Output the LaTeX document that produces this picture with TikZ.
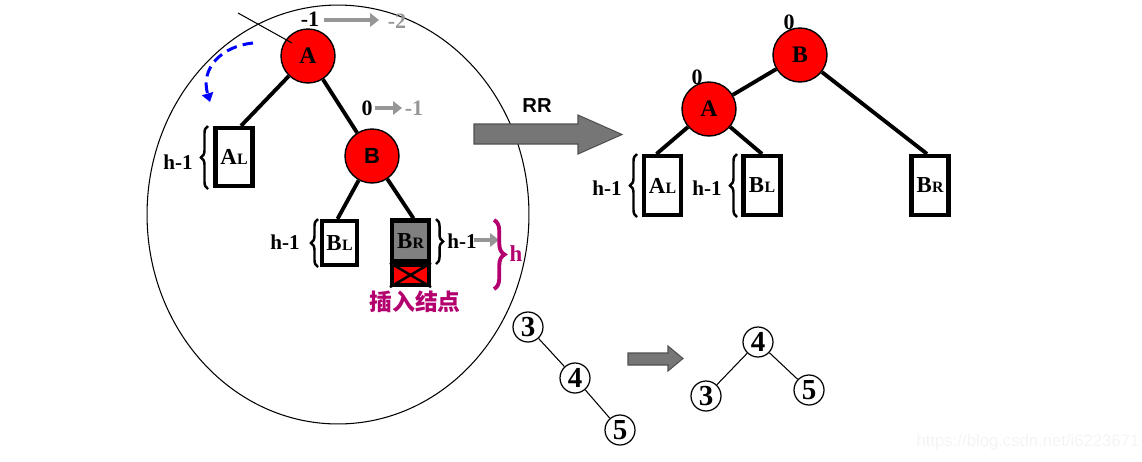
\documentclass[tikz,border=0pt]{standalone}
\usepackage{fontspec}
\setmainfont{Liberation Serif}
\newfontfamily\arialf{Liberation Sans}
\newfontfamily\cjkf{Noto Sans CJK SC}
\usetikzlibrary{arrows.meta,decorations.pathreplacing,calc}
\definecolor{nodered}{RGB}{255,0,0}
\definecolor{lblgrey}{RGB}{150,150,150}
\definecolor{magentax}{RGB}{179,0,110}
\definecolor{boxgrey}{RGB}{128,128,128}
\definecolor{arrowfill}{RGB}{118,118,118}
\definecolor{arrowedge}{RGB}{80,80,80}
\definecolor{wmgrey}{RGB}{244,244,244}
\definecolor{dashblue}{RGB}{0,0,255}
\newcommand{\boxlbl}[2]{#1\kern0.2pt{\fontsize{9}{9}\selectfont #2}}
\tikzset{
  rnode/.style={circle, draw=black, line width=0.8pt, fill=nodered, minimum size=1.08cm, inner sep=0pt, font=\fontsize{13.5}{14}\selectfont\bfseries},
  tbox/.style={draw=black, line width=2.4pt, inner sep=0pt, minimum width=0.74cm, font=\fontsize{13}{13}\selectfont\bfseries},
  tedge/.style={line width=2.2pt},
  hlbl/.style={inner sep=0pt, font=\fontsize{12}{12}\selectfont\bfseries},
  glbl/.style={inner sep=0pt, text=lblgrey, font=\fontsize{12.5}{13}\selectfont\bfseries},
  garr/.style={draw=lblgrey, line width=2.3pt, -{Triangle[length=5pt,width=7.5pt]}},
  lbrace/.style={decorate, decoration={brace, amplitude=4pt}, line width=1.4pt},
  snode/.style={circle, draw=black, line width=0.7pt, minimum size=0.6cm, inner sep=0pt, font=\fontsize{16.5}{16}\selectfont\bfseries},
  thinedge/.style={line width=0.6pt},
  bigarrow/.style={fill=arrowfill, draw=arrowedge, line width=0.6pt}
}
\begin{document}
\begin{tikzpicture}[x=0.02cm, y=-0.02cm]
\useasboundingbox (0,0) rectangle (1142,461);
% big ellipse
\draw[line width=0.6pt] (338,214.5) ellipse [x radius=3.82cm, y radius=4.19cm];

% ---------- left tree ----------
\node[rnode] (A) at (308,56) {A};
\node[rnode, font=\arialf\fontsize{12.5}{13}\selectfont\bfseries] (B) at (372,156) {B};
\node[tbox, minimum height=1.16cm] (AL) at (234,157) {\boxlbl{A}{L}};
\node[tbox, minimum width=0.70cm, minimum height=0.88cm] (BL) at (339.5,243) {\boxlbl{B}{L}};
\node[tbox, fill=boxgrey, minimum height=0.82cm] (BR) at (410.5,241) {\boxlbl{B}{R}};
\node[tbox, fill=nodered, minimum height=0.40cm] (X) at (410.5,275) {};
\draw[line width=1.4pt] (X.north west) -- (X.south east);
\draw[line width=1.4pt] (X.south west) -- (X.north east);

\draw[tedge] (A) -- ($(AL.north)+(7,0)$);
\draw[tedge] (A) -- (B);
\draw[tedge] (B) -- ($(BL.north)+(-2,0)$);
\draw[tedge] (B) -- ($(BR.north)+(3,0)$);

% stray line
\coordinate (s1) at (238,13);
\coordinate (s2) at (292,43);
\draw[line width=0.6pt] (s1) -- (s2);

% blue dashed rotation arrow
\coordinate (b1) at (253,43);
\coordinate (b2) at (210,102);
\draw[dashblue, line width=1.7pt, dash pattern=on 6pt off 3.5pt, -{Triangle[length=5pt,width=6.5pt]}] (b1) .. controls (222,46) and (200,68) .. (b2);

% balance labels
\node[hlbl, font=\fontsize{12.5}{13}\selectfont\bfseries] (la1) at (310,19) {-1};
\coordinate (g1s) at (324,20);
\coordinate (g1e) at (379,20);
\draw[garr] (g1s) -- (g1e);
\node[glbl] (la2) at (397,21) {-2};
\node[hlbl, font=\fontsize{12.5}{13}\selectfont\bfseries] (lb1) at (367,108) {0};
\coordinate (g2s) at (375,108);
\coordinate (g2e) at (402,108);
\draw[garr] (g2s) -- (g2e);
\node[glbl] (lb2) at (414,108) {-1};

% heights
\node[hlbl] (h1) at (178,162) {h-1};
\draw[lbrace] (208,189) -- (208,126);
\node[hlbl] (h2) at (285,242) {h-1};
\draw[lbrace] (318,267) -- (318,219);
\draw[lbrace] (436,219) -- (436,264);
\node[hlbl] (h3) at (462,241) {h-1};
\coordinate (g3s) at (474,240);
\coordinate (g3e) at (499,240);
\draw[garr, line width=2pt] (g3s) -- (g3e);
\draw[decorate, decoration={brace, amplitude=6pt}, line width=2.2pt, magentax] (494,220) -- (494,289);
\node[inner sep=0pt, text=magentax, font=\fontsize{13}{13}\selectfont\bfseries] (hh) at (516,254) {h};
\node[inner sep=0pt, text=magentax, font=\cjkf\fontsize{13}{13}\selectfont\bfseries] (ins) at (415,302) {插入结点};

% ---------- RR arrow ----------
\node[inner sep=0pt, font=\arialf\fontsize{11.5}{12}\selectfont\bfseries] (RR) at (537,106) {RR};
\draw[bigarrow] (474,124) -- (578,124) -- (578,115) -- (622,134.5) -- (578,154) -- (578,144) -- (474,144) -- cycle;

% ---------- right tree ----------
\node[rnode] (B2) at (800,55) {B};
\node[rnode] (A2) at (709,109) {A};
\node[tbox, minimum height=1.18cm] (AL2) at (662.5,185.5) {\boxlbl{A}{L}};
\node[tbox, minimum height=1.18cm] (BL2) at (762,185.5) {\boxlbl{B}{L}};
\node[tbox, minimum height=1.18cm] (BR2) at (930,185.5) {\boxlbl{B}{R}};
\draw[tedge] (B2) -- (A2);
\draw[tedge] (A2) -- ($(AL2.north)+(-6,0)$);
\draw[tedge] (A2) -- (BL2.north);
\draw[tedge] (B2) -- ($(BR2.north)+(-3,0)$);
\node[hlbl, font=\fontsize{12.5}{13}\selectfont\bfseries] (z1) at (789,22) {0};
\node[hlbl, font=\fontsize{12.5}{13}\selectfont\bfseries] (z2) at (697,77) {0};
\node[hlbl] (h4) at (607,188) {h-1};
\draw[lbrace] (637,217) -- (637,154);
\node[hlbl] (h5) at (707,188) {h-1};
\draw[lbrace] (737,217) -- (737,154);

% ---------- small example ----------
\node[snode] (c3) at (528,327) {3};
\node[snode] (c4) at (575,378) {4};
\node[snode] (c5) at (620,430) {5};
\draw[thinedge] (c3) -- (c4);
\draw[thinedge] (c4) -- (c5);
\draw[bigarrow] (628,353) -- (668,353) -- (668,346) -- (683,358.5) -- (668,371) -- (668,365) -- (628,365) -- cycle;
\node[snode] (d4) at (758,342) {4};
\node[snode] (d3) at (706,396) {3};
\node[snode] (d5) at (809,390) {5};
\draw[thinedge] (d4) -- (d3);
\draw[thinedge] (d4) -- (d5);

% watermark
\node[inner sep=0pt, text=wmgrey, font=\arialf\fontsize{9.5}{10}\selectfont] (wm) at (1028,442) {https://blog.csdn.net/i6223671};
\end{tikzpicture}
\end{document}
